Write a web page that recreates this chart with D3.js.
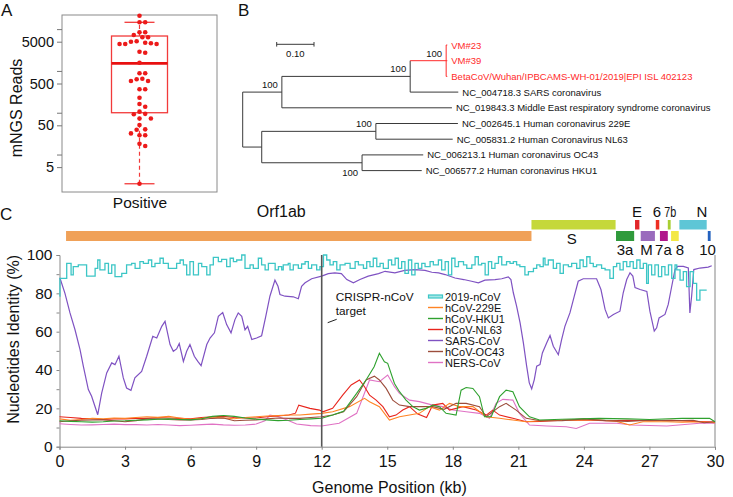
<!DOCTYPE html>
<html>
<head>
<meta charset="utf-8">
<script src="https://cdn.jsdelivr.net/npm/d3@7"></script>
<style>
  body { margin: 0; background: #fff; }
  text { font-family: "Liberation Sans", Arial, sans-serif; fill: #111; }
</style>
</head>
<body>
<div id="chart"></div>
<script>
// ---------- panel A : mNGS reads ----------
var readsValues = [20900, 14550, 14550, 8400, 8400, 7230, 6370, 6370, 5000, 4580, 4400, 4400, 4400, 4730, 5110,
  2880, 2730, 1570, 877, 877, 652, 630, 574, 574, 363, 363, 229, 162, 139, 106, 92, 94, 73, 73, 51, 39, 40,
  32, 29, 29, 16, 18, 2];
// lower whisker, q1, median, q3, upper whisker
var readsBox = [2, 100, 1520, 6840, 14550];
var readsTicks = [5, 10, 50, 100, 500, 1000, 5000, 10000];
var readsTickLabels = [5, 50, 500, 5000];

// ---------- panel B : tree ----------
var treeIds = ["root", "n1", "n2", "n3", "t1", "t2", "t3", "t4", "t5", "n4", "n5", "t6", "t7", "n6", "t8", "t9"];
var treeParents = ["", "root", "n1", "n2", "n3", "n3", "n3", "n2", "n1", "root", "n4", "n5", "n5", "n4", "n6", "n6"];
var treeLengths = [0, 0.105, 0.344, 0.0965, 0.003, 0.003, 0.003, 0.129, 0.456, 0.051, 0.306, 0.220, 0.206, 0.269, 0.164, 0.160];
var treeLabels = ["", "", "", "", "VM#23", "VM#39", "BetaCoV/Wuhan/IPBCAMS-WH-01/2019|EPI ISL 402123",
  "NC_004718.3 SARS coronavirus", "NC_019843.3 Middle East respiratory syndrome coronavirus", "", "",
  "NC_002645.1 Human coronavirus 229E", "NC_005831.2 Human Coronavirus NL63", "",
  "NC_006213.1 Human coronavirus OC43", "NC_006577.2 Human coronavirus HKU1"];
var treeSupport = ["", "100", "100", "100", "", "", "", "", "", "", "100", "", "", "100", "", ""];
var treeSupportSide = ["", "above", "above", "above", "", "", "", "", "", "", "above", "", "", "below", "", ""];

// ---------- panel C : identity ----------
var geneNames = ["Orf1ab", "S", "3a", "E", "M", "6", "7a", "7b", "8", "N", "10"];
var geneStart = [0.30, 21.6, 25.47, 26.34, 26.6, 27.29, 27.48, 27.84, 27.99, 28.37, 29.67];
var geneEnd = [21.6, 25.45, 26.3, 26.54, 27.25, 27.45, 27.84, 27.97, 28.34, 29.62, 29.8];
var geneRow = [1, 0, 1, 0, 1, 0, 1, 0, 1, 0, 1];
var geneLabelAt = [10.15, 23.45, 25.88, 26.43, 26.86, 27.34, 27.64, 27.95, 28.39, 29.4, 29.66];
var geneLabelSide = ["top", "bottom", "bottom", "top", "bottom", "top", "bottom", "top", "bottom", "top", "bottom"];
var geneColors = ["#f0a158", "#c5d83a", "#2f9a3b", "#e2262a", "#9a6bbd", "#ee2e22", "#b0168c", "#a8cf32", "#f3e845", "#5ec6d6", "#2462bf"];

var seriesNames = ["2019-nCoV", "hCoV-229E", "hCoV-HKU1", "hCoV-NL63", "SARS-CoV", "hCoV-OC43", "NERS-CoV"];
var seriesColors = ["#3cc6c6", "#ff8424", "#2ea12e", "#e8241c", "#7f52c2", "#9c4d3c", "#e072c4"];

var ncov = [[0, 78.5], [0.02, 87.8], [0.33, 95.6], [0.53, 89.6], [0.63, 93.9], [0.86, 94.8], [1.24, 89.0], [1.63, 93.0],
  [1.75, 97.4], [1.85, 92.2], [2.08, 95.6], [2.24, 90.4], [2.39, 94.8], [2.54, 88.7], [2.85, 90.4], [3.07, 94.8],
  [3.3, 95.6], [3.46, 93.0], [3.68, 96.5], [3.84, 95.6], [4.07, 97.4], [4.22, 93.9], [4.37, 95.6], [4.6, 98.3],
  [4.75, 95.6], [4.98, 93.0], [5.36, 95.6], [5.52, 97.4], [5.67, 94.8], [5.82, 89.6], [5.97, 96.5], [6.13, 89.6],
  [6.36, 95.6], [6.51, 93.9], [6.74, 89.6], [6.89, 94.8], [7.04, 98.8], [7.27, 96.5], [7.42, 97.7], [7.65, 93.9],
  [7.81, 98.3], [7.96, 96.5], [8.11, 97.4], [8.34, 100], [8.49, 93.0], [8.72, 94.8], [8.87, 93.0], [9.1, 98.3],
  [9.25, 94.8], [9.41, 92.2], [9.56, 95.6], [9.87, 92.2], [10.02, 93.9], [10.17, 92.2], [10.24, 94.8], [10.47, 95.6],
  [10.55, 92.2], [10.7, 94.8], [10.93, 93.0], [11.08, 95.3], [11.24, 96.5], [11.39, 93.0], [11.54, 94.8], [11.77, 92.2],
  [11.92, 93.9], [12.08, 100], [12.23, 97.4], [12.38, 94.8], [12.53, 96.5], [12.69, 92.2], [12.84, 94.8], [13.07, 95.6],
  [13.3, 93.0], [13.53, 96.5], [13.68, 94.8], [13.91, 93.0], [14.06, 96.5], [14.21, 93.9], [14.36, 98.3], [14.52, 93.9],
  [14.67, 95.6], [14.82, 93.0], [15.05, 97.4], [15.2, 94.8], [15.36, 98.3], [15.51, 93.0], [15.66, 96.5], [15.81, 90.4],
  [15.97, 97.4], [16.12, 89.6], [16.27, 95.6], [16.42, 93.0], [16.58, 95.6], [16.73, 93.9], [16.96, 96.5], [17.11, 94.8],
  [17.34, 97.4], [17.49, 92.2], [17.65, 96.5], [17.8, 89.6], [17.95, 98.3], [18.1, 93.9], [18.26, 96.5], [18.49, 94.8],
  [18.64, 93.0], [18.87, 94.8], [19.02, 99.1], [19.17, 94.8], [19.32, 95.6], [19.48, 89.6], [19.63, 96.5], [19.78, 93.0],
  [19.93, 95.6], [20.09, 99.1], [20.24, 94.8], [20.46, 96.5], [20.62, 95.6], [20.77, 96.5], [20.92, 94.8], [21.07, 93.9],
  [21.3, 89.6], [21.46, 91.3], [21.69, 93.0], [21.84, 94.8], [21.99, 93.9], [22.14, 98.3], [22.22, 94.8], [22.37, 97.4],
  [22.6, 93.0], [22.75, 95.6], [22.91, 90.4], [23.06, 94.8], [23.29, 93.9], [23.44, 95.6], [23.67, 93.0], [23.82, 97.4],
  [23.97, 93.9], [24.13, 99.1], [24.28, 95.6], [24.43, 93.9], [24.58, 94.8], [24.81, 93.0], [24.97, 92.2], [25.19, 87.8],
  [25.35, 93.9], [25.5, 95.6], [25.65, 92.2], [25.8, 96.5], [25.96, 93.9], [26.11, 96.5], [26.26, 93.0], [26.42, 97.4],
  [26.57, 93.0], [26.72, 95.6], [26.87, 85.2], [26.95, 94.8], [27.1, 89.6], [27.25, 94.8], [27.41, 88.7], [27.56, 93.9],
  [27.71, 89.6], [27.87, 94.8], [28.02, 87.8], [28.17, 94.8], [28.25, 92.2], [28.4, 86.9], [28.55, 91.3], [28.7, 83.5],
  [28.86, 91.3], [29.01, 85.2], [29.16, 76.5], [29.31, 81.7], [29.62, 81.7]];

var sars = [[0.02, 88], [0.25, 80], [0.48, 69.8], [0.71, 61], [0.94, 50.6], [1.09, 42], [1.32, 29.8], [1.47, 26.3],
  [1.75, 16.7], [1.93, 28], [2.16, 38.5], [2.39, 43.7], [2.54, 42.8], [2.72, 47.2], [2.92, 35.9], [3.07, 30.6],
  [3.27, 29.4], [3.45, 35.9], [3.76, 39.3], [3.99, 47.2], [4.27, 57.6], [4.45, 56.7], [4.68, 62.8], [4.83, 65.4],
  [5.06, 53.3], [5.21, 49.8], [5.36, 51], [5.48, 53.8], [5.67, 44.5], [5.82, 49.8], [5.97, 53.3], [6.17, 47.2],
  [6.33, 44.5], [6.48, 42.3], [6.74, 53.3], [6.89, 56.7], [7.09, 59.4], [7.27, 68], [7.47, 70], [7.65, 63.7],
  [7.85, 59.4], [8.03, 66.3], [8.18, 69.8], [8.34, 68], [8.49, 61], [8.61, 62.8], [8.8, 55.9], [9.02, 56.7],
  [9.25, 57.9], [9.44, 68], [9.63, 78.5], [9.86, 86.9], [10.0, 83.7], [10.09, 79.4], [10.32, 78.5], [10.7, 78.2],
  [10.93, 77.2], [11.08, 83.7], [11.24, 85.5], [11.54, 87.6], [12.0, 89], [12.3, 90.3], [12.6, 90.7], [12.9, 90.3],
  [13.15, 87.2], [13.45, 85.5], [13.75, 87.2], [14.13, 89], [14.6, 90.3], [14.9, 91.5], [15.35, 90.7], [15.8, 92],
  [16.27, 92.4], [16.73, 92], [17.04, 91], [17.35, 90.7], [17.65, 89.8], [18.1, 88], [18.5, 87.2], [18.86, 86.3],
  [19.17, 85.5], [19.47, 86.9], [19.93, 87.2], [20.24, 87.6], [20.54, 88.6], [20.66, 87.2], [20.77, 80.3], [20.92, 73.3],
  [21.08, 64.6], [21.23, 54.2], [21.38, 42], [21.5, 33.3], [21.61, 30.2], [21.73, 35], [21.84, 42], [21.99, 42.8],
  [22.1, 48.9], [22.3, 54.2], [22.45, 58], [22.6, 52.4], [22.83, 48], [22.98, 55.9], [23.13, 62.8], [23.36, 69.8],
  [23.56, 78.5], [23.74, 86.3], [23.97, 87.6], [24.35, 87.6], [24.58, 87.6], [24.78, 82], [24.97, 71.6], [25.12, 67.2],
  [25.35, 69], [25.65, 70.7], [25.8, 80.3], [25.96, 87.2], [26.11, 90.7], [26.24, 89], [26.34, 83], [26.57, 82],
  [26.88, 81], [27.02, 70.7], [27.22, 60.3], [27.33, 62], [27.44, 67.2], [27.71, 69], [27.86, 74.2], [28.02, 83.7],
  [28.17, 92.4], [28.29, 94.1], [28.55, 94.1], [28.78, 93.2], [28.85, 69.8], [28.93, 78.5], [29.03, 92.4], [29.31, 93.2],
  [29.69, 93.7], [29.85, 94.4]];

var hcov229e = [[0, 14.5], [0.5, 13.8], [1, 14.2], [1.5, 14.8], [2, 14.5], [2.5, 15.0], [3, 14.8], [3.5, 15.2], [4, 15.6],
  [4.5, 15.3], [5, 15.8], [5.5, 15.0], [6, 14.3], [6.5, 14.8], [7, 15.5], [7.5, 15.0], [8, 14.6], [8.5, 15.2], [9, 15.6],
  [9.5, 16.0], [10, 16.2], [10.5, 16.5], [11, 16.5], [11.5, 17.0], [12, 17.4], [12.5, 18.2], [13.27, 20.9], [13.96, 25.2],
  [14.19, 23.5], [14.64, 20.9], [15.1, 13.9], [15.56, 15.6], [16.02, 16.5], [16.47, 17.4], [16.93, 20.9], [17.39, 19.1],
  [17.85, 22.6], [18.3, 20.9], [18.92, 20.9], [19.53, 15.6], [20.14, 14.8], [20.75, 13.9], [21.36, 13], [22, 13.5],
  [23, 13.8], [24, 13.9], [24.7, 13.9], [25.5, 13.2], [26.09, 11.3], [26.7, 13], [27.8, 13], [28.5, 12.8], [29.3, 13.0],
  [30, 12.5]];

var hku1 = [[0, 13.5], [0.5, 13.2], [1, 13.0], [1.5, 12.8], [2, 13.0], [2.5, 13.4], [3, 13.5], [3.5, 13.8], [4, 14.0],
  [4.5, 14.3], [5, 14.5], [5.5, 14.2], [6, 14.0], [6.5, 14.6], [7, 15.8], [7.5, 16.3], [8, 15.8], [8.5, 15.0], [9, 14.4],
  [9.5, 14.0], [10, 13.6], [10.5, 13.8], [11, 14.2], [11.5, 14.5], [12, 14.8], [12.5, 16.5], [13, 18.5], [13.6, 27.8],
  [14.03, 34.8], [14.4, 41.7], [14.64, 48.7], [14.87, 44.3], [15.02, 43.5], [15.33, 33], [15.56, 28.7], [15.86, 24.3],
  [16.17, 20.9], [16.47, 19.1], [16.78, 20], [17.08, 21.7], [17.39, 20.9], [17.69, 17.4], [18.15, 16.5], [18.38, 29.5],
  [18.61, 30.9], [18.92, 30.4], [19.22, 26.1], [19.45, 15.6], [19.76, 15.6], [20.14, 26.1], [20.44, 29.5], [20.75, 28.7],
  [21.05, 20.9], [21.51, 15.6], [21.97, 13.9], [23, 14.3], [24.7, 14.8], [26, 14.5], [27, 14.2], [28.5, 14.8],
  [29.75, 14.8], [30, 13]];

var nl63 = [[0, 15.6], [0.5, 15.2], [1, 14.8], [1.5, 14.6], [2, 14.2], [2.5, 14.5], [3, 14.5], [3.5, 14.8], [4, 14.8],
  [4.5, 15.2], [5, 15.0], [5.5, 14.8], [6, 14.5], [6.5, 15.2], [7, 15.6], [7.5, 15.8], [8, 15.2], [8.5, 15.0], [9, 15.0],
  [9.5, 15.6], [10, 16.0], [10.5, 16.5], [10.8, 17.5], [10.95, 21.7], [11.46, 20], [11.9, 19.1], [12.05, 18.2], [12.5, 20],
  [12.96, 26.9], [13.35, 32.2], [13.73, 34.8], [13.96, 31.3], [14.19, 26.9], [14.49, 24.3], [14.8, 20.9], [15.1, 15.6],
  [15.4, 16.5], [15.71, 19.1], [16.02, 20.9], [16.4, 17.0], [16.8, 15.2], [17.08, 21.7], [17.54, 22.6], [17.85, 19.1],
  [18.46, 20.9], [19.07, 19.1], [19.53, 16.5], [19.83, 19.1], [20.14, 16.5], [20.75, 14.8], [21.36, 13], [22, 13.2],
  [23, 13.8], [24, 14.0], [25, 13.5], [26, 13.8], [27, 13.5], [28, 13.8], [29, 13.2], [30, 12.8]];

var oc43 = [[0, 13.0], [0.5, 13.5], [1, 13.8], [1.5, 14.0], [2, 14.0], [2.5, 13.5], [3, 13.0], [3.5, 13.6], [4, 14.5],
  [4.5, 14.6], [5, 14.2], [5.5, 14.0], [6, 14.0], [6.5, 14.2], [7, 14.8], [7.5, 15.0], [8, 13.5], [8.5, 13.8], [9, 14.0],
  [9.5, 14.5], [10, 15.0], [10.5, 14.8], [11, 14.8], [11.5, 15.2], [12, 15.6], [12.5, 16.5], [13, 18.2], [13.6, 26.1],
  [14.03, 34.8], [14.41, 36.8], [14.64, 34.8], [14.95, 30.4], [15.25, 24.3], [15.56, 21.7], [16.02, 20.9], [16.47, 20.9],
  [17.08, 20.9], [17.6, 19.5], [18.15, 22.6], [18.61, 22.6], [19.22, 20.9], [19.53, 15.6], [20.14, 20.9], [20.44, 22.6],
  [20.9, 19.1], [21.36, 14.8], [22, 13.5], [23, 13.6], [24, 14.5], [25, 13.6], [26, 13.2], [27, 13.8], [28, 13.5],
  [29, 13.8], [29.5, 12.5], [30, 13.0]];

var mers = [[0, 12.0], [0.5, 11.6], [1, 11.3], [1.5, 11.4], [2, 11.6], [2.5, 11.8], [3, 11.5], [3.5, 11.5], [4, 11.3],
  [4.5, 11.6], [5, 11.3], [5.5, 11.0], [6, 11.2], [6.5, 11.5], [7, 11.8], [7.5, 11.4], [8, 11.2], [8.5, 11.3], [9, 11.8],
  [9.4, 13.5], [9.63, 16.5], [10, 15.8], [10.5, 13.5], [10.85, 11.8], [11.5, 11.0], [12, 10.8], [12.8, 12.2], [13.6, 17.4],
  [14.19, 34.8], [14.64, 33.9], [15.02, 37.4], [15.33, 31.3], [15.56, 27.8], [16.02, 24.3], [16.47, 23.5], [17.08, 21.7],
  [17.54, 20.9], [18.0, 19.1], [18.61, 18.2], [19.22, 17.4], [19.68, 14.8], [19.98, 22.6], [20.29, 24.7], [20.75, 24.3],
  [21.05, 17.4], [21.51, 11.3], [22.3, 10.8], [23.19, 10.4], [23.65, 9.5], [24.26, 12.2], [25.5, 12.2], [26.2, 11.3],
  [27.8, 10.8], [29.3, 12.2], [30, 12.2]];

var xTicks = [0, 3, 6, 9, 12, 15, 18, 21, 24, 27, 30];
var crisprTarget = 12;

var svg = d3.select("#chart").append("svg")
  .attr("width", 733).attr("height", 497);

// panel letters
svg.append("text").attr("x", 1).attr("y", 16).text("A").style("font-size", "17px");
svg.append("text").attr("x", 238).attr("y", 16).text("B").style("font-size", "17px");
svg.append("text").attr("x", 0).attr("y", 220).text("C").style("font-size", "17px");

// ================= A =================
var yA = d3.scaleLog().domain([1.27, 21760]).range([192, 15]);
var cxA = 139.5;

svg.append("rect").attr("x", 62).attr("y", 15).attr("width", 155).attr("height", 177)
  .style("fill", "none").style("stroke", "#8a8a8a").style("stroke-width", 1);

var axA = svg.append("g").attr("transform", "translate(62,0)")
  .call(d3.axisLeft(yA).tickValues(readsTicks).tickSize(5).tickPadding(3)
    .tickFormat(function (d) { return readsTickLabels.indexOf(d) >= 0 ? d : ""; }));
axA.select(".domain").remove();
axA.selectAll("line").style("stroke", "#777");
axA.selectAll("text").style("font-size", "14.5px").style("fill", "#111")
  .style("font-family", "'Liberation Sans', Arial, sans-serif");

svg.append("text").attr("transform", "translate(22,108) rotate(-90)")
  .attr("text-anchor", "middle").text("mNGS Reads").style("font-size", "16px");
svg.append("text").attr("x", 140).attr("y", 208).attr("text-anchor", "middle")
  .text("Positive").style("font-size", "15.5px");

var boxRed = "#f23a3a";
// whiskers
svg.append("line").attr("x1", cxA).attr("x2", cxA).attr("y1", yA(readsBox[0])).attr("y2", yA(readsBox[1]))
  .style("stroke", boxRed).style("stroke-width", 1.2).style("stroke-dasharray", "4,3");
svg.append("line").attr("x1", cxA).attr("x2", cxA).attr("y1", yA(readsBox[3])).attr("y2", yA(readsBox[4]))
  .style("stroke", boxRed).style("stroke-width", 1.2).style("stroke-dasharray", "4,3");
[readsBox[0], readsBox[4]].forEach(function (v) {
  svg.append("line").attr("x1", cxA - 15).attr("x2", cxA + 15).attr("y1", yA(v)).attr("y2", yA(v))
    .style("stroke", boxRed).style("stroke-width", 1.3);
});
svg.append("rect").attr("x", cxA - 28).attr("width", 56)
  .attr("y", yA(readsBox[3])).attr("height", yA(readsBox[1]) - yA(readsBox[3]))
  .style("fill", "none").style("stroke", boxRed).style("stroke-width", 1.3);
svg.append("line").attr("x1", cxA - 28).attr("x2", cxA + 28).attr("y1", yA(readsBox[2])).attr("y2", yA(readsBox[2]))
  .style("stroke", "#e81010").style("stroke-width", 2.8);

// simple swarm layout for the dots
var dotGap = 5.7;
var placed = [];
readsValues.slice().sort(d3.descending).forEach(function (v) {
  var cy = yA(v);
  for (var k = 0; k < 40; k++) {
    var off = (k % 2 === 1 ? 1 : -1) * Math.ceil(k / 2) * dotGap / 2;
    var ok = placed.every(function (p) {
      var dx = p.x - (cxA + off), dy = p.y - cy;
      return dx * dx + dy * dy >= dotGap * dotGap * 0.9;
    });
    if (ok) { placed.push({ x: cxA + off, y: cy }); break; }
  }
});
svg.selectAll(".dot").data(placed).enter().append("circle")
  .attr("cx", function (d) { return d.x; }).attr("cy", function (d) { return d.y; })
  .attr("r", 2.3).style("fill", "#ec1a1a");

// ================= B =================
var treeRows = treeIds.map(function (id, i) {
  return { id: id, parent: treeParents[i] || null, len: treeLengths[i], label: treeLabels[i],
    support: treeSupport[i], side: treeSupportSide[i] };
});
var tree = d3.stratify().id(function (d) { return d.id; }).parentId(function (d) { return d.parent; })(treeRows);
tree.eachBefore(function (n) { n.dist = n.parent ? n.parent.dist + n.data.len : 0; });

var tx = d3.scaleLinear().domain([0, 0.1]).range([242.7, 280]);
var leaves = tree.leaves();
var ty = d3.scaleLinear().domain([0, leaves.length - 1]).range([45, 170.6]);
leaves.forEach(function (l, i) { l.py = ty(i); });
tree.eachAfter(function (n) {
  if (n.children) n.py = (n.children[0].py + n.children[n.children.length - 1].py) / 2;
});
var redClade = tree.descendants().filter(function (n) { return n.id === "n3"; })[0].descendants();
function branchColor(n) { return redClade.indexOf(n) >= 0 ? "#ff2a2a" : "#3a3a3a"; }

var gT = svg.append("g");
tree.descendants().forEach(function (n) {
  if (n.parent) {
    gT.append("line").attr("x1", tx(n.parent.dist)).attr("x2", tx(n.dist)).attr("y1", n.py).attr("y2", n.py)
      .style("stroke", branchColor(n)).style("stroke-width", 1);
  }
  if (n.children) {
    gT.append("line").attr("x1", tx(n.dist)).attr("x2", tx(n.dist))
      .attr("y1", n.children[0].py).attr("y2", n.children[n.children.length - 1].py)
      .style("stroke", branchColor(n)).style("stroke-width", 1);
  }
  if (n.data.support) {
    gT.append("text").attr("x", tx(n.dist) - 4)
      .attr("y", n.data.side === "below" ? n.py + 13 : n.py - 4)
      .attr("text-anchor", "end").text(n.data.support).style("font-size", "9.5px");
  }
  if (!n.children) {
    gT.append("text").attr("x", tx(n.dist) + 4).attr("y", n.py + 3.5).text(n.data.label)
      .style("font-size", "9.5px").style("fill", redClade.indexOf(n) >= 0 ? "#ff2a2a" : "#111");
  }
});
// scale bar
var sbX = 276.7, sbW = tx(0.1) - tx(0);
gT.append("line").attr("x1", sbX).attr("x2", sbX + sbW).attr("y1", 44.3).attr("y2", 44.3).style("stroke", "#3a3a3a");
[sbX, sbX + sbW].forEach(function (xx) {
  gT.append("line").attr("x1", xx).attr("x2", xx).attr("y1", 42).attr("y2", 46.6).style("stroke", "#3a3a3a");
});
gT.append("text").attr("x", sbX + sbW / 2).attr("y", 56.5).attr("text-anchor", "middle").text("0.10")
  .style("font-size", "9.5px");

// ================= C =================
var x = d3.scaleLinear().domain([0, 30]).range([59.5, 715]);
var y = d3.scaleLinear().domain([0, 100]).range([446.7, 255]);

// gene map
var rowY = [220, 231], rowH = [9.5, 10];
svg.selectAll(".gene").data(geneNames).enter().append("rect")
  .attr("x", function (d, i) { return x(geneStart[i]); })
  .attr("width", function (d, i) { return x(geneEnd[i]) - x(geneStart[i]); })
  .attr("y", function (d, i) { return rowY[geneRow[i]]; })
  .attr("height", function (d, i) { return rowH[geneRow[i]]; })
  .style("fill", function (d, i) { return geneColors[i]; });
svg.selectAll(".geneLabel").data(geneNames).enter().append("text")
  .attr("x", function (d, i) { return x(geneLabelAt[i]); })
  .attr("y", function (d, i) {
    return geneLabelSide[i] === "top" ? 217 : rowY[geneRow[i]] + rowH[geneRow[i]] + 14;
  })
  .attr("text-anchor", "middle").text(function (d) { return d; })
  .style("font-size", function (d) { return d === "Orf1ab" ? "16px" : "15px"; })
  .each(function (d) {
    // the crowded small labels are set a little narrower, as in the figure
    if (d === "7b") d3.select(this).attr("textLength", 12).attr("lengthAdjust", "spacingAndGlyphs");
  });

// axes
var axY = svg.append("g").attr("transform", "translate(" + x(0) + ",0)")
  .call(d3.axisLeft(y).tickValues(d3.range(0, 101, 10)).tickSize(3).tickPadding(4)
    .tickFormat(function (d) { return d % 20 === 0 ? d : ""; }));
axY.select(".domain").style("stroke", "#888");
axY.selectAll("line").style("stroke", "#888");
axY.selectAll("text").style("font-size", "15.5px").style("fill", "#111")
  .style("font-family", "'Liberation Sans', Arial, sans-serif");

var axX = svg.append("g").attr("transform", "translate(0," + y(0) + ")")
  .call(d3.axisBottom(x).tickValues(xTicks).tickSize(3).tickPadding(6));
axX.select(".domain").style("stroke", "#888");
axX.selectAll("line").style("stroke", "#888");
axX.selectAll("text").style("font-size", "16px").style("fill", "#111")
  .style("font-family", "'Liberation Sans', Arial, sans-serif");

svg.append("line").attr("x1", x(30)).attr("x2", x(30)).attr("y1", y(100)).attr("y2", y(0))
  .style("stroke", "#999").style("stroke-width", 1.2);

svg.append("text").attr("transform", "translate(19," + y(56) + ") rotate(-90)")
  .attr("text-anchor", "middle").text("Nucleotides Identity (%)").style("font-size", "16px");
svg.append("text").attr("x", x(15.1)).attr("y", 493).attr("text-anchor", "middle")
  .text("Genome Position (kb)").style("font-size", "16px");

// series lines
var line = d3.line().x(function (d) { return x(d[0]); }).y(function (d) { return y(d[1]); });
var stepLine = d3.line().x(function (d) { return x(d[0]); }).y(function (d) { return y(d[1]); }).curve(d3.curveStepAfter);
var lowSeries = [hcov229e, hku1, nl63, oc43, mers];
var lowIdx = [1, 2, 3, 5, 6];
var drawOrder = [4, 2, 0, 3, 1];
drawOrder.forEach(function (k) {
  svg.append("path").datum(lowSeries[k]).attr("d", line)
    .style("fill", "none").style("stroke", seriesColors[lowIdx[k]]).style("stroke-width", 1.1);
});
svg.append("path").datum(sars).attr("d", line)
  .style("fill", "none").style("stroke", seriesColors[4]).style("stroke-width", 1.2);
svg.append("path").datum(ncov).attr("d", stepLine)
  .style("fill", "none").style("stroke", seriesColors[0]).style("stroke-width", 1.3);

// CRISPR target line
svg.append("line").attr("x1", x(crisprTarget)).attr("x2", x(crisprTarget)).attr("y1", y(100)).attr("y2", y(0))
  .style("stroke", "#555").style("stroke-width", 1.6);
svg.append("line").attr("x1", x(crisprTarget) + 6).attr("x2", x(crisprTarget) + 15)
  .attr("y1", 322.7).attr("y2", 319.3).style("stroke", "#222").style("stroke-width", 1);
svg.append("text").attr("x", x(crisprTarget) + 14).attr("y", 301).text("CRISPR-nCoV").style("font-size", "11.8px");
svg.append("text").attr("x", x(crisprTarget) + 14).attr("y", 314.5).text("target").style("font-size", "11.8px");

// legend
var lg = svg.append("g").attr("transform", "translate(426,291)");
lg.append("rect").attr("x", 0).attr("y", -2).attr("width", 82).attr("height", 78).style("fill", "#fff");
seriesNames.forEach(function (name, i) {
  var yy = 5.5 + i * 11;
  if (i === 0) {
    lg.append("rect").attr("x", 2.5).attr("y", yy - 1.5).attr("width", 14).attr("height", 3)
      .style("fill", "#a6e6e6").style("stroke", seriesColors[0]).style("stroke-width", 1.2);
  } else {
    lg.append("line").attr("x1", 2).attr("x2", 17).attr("y1", yy).attr("y2", yy)
      .style("stroke", seriesColors[i]).style("stroke-width", 1.4);
  }
  lg.append("text").attr("x", 19).attr("y", yy + 4).text(name).style("font-size", "11px");
});
</script>
</body>
</html>
